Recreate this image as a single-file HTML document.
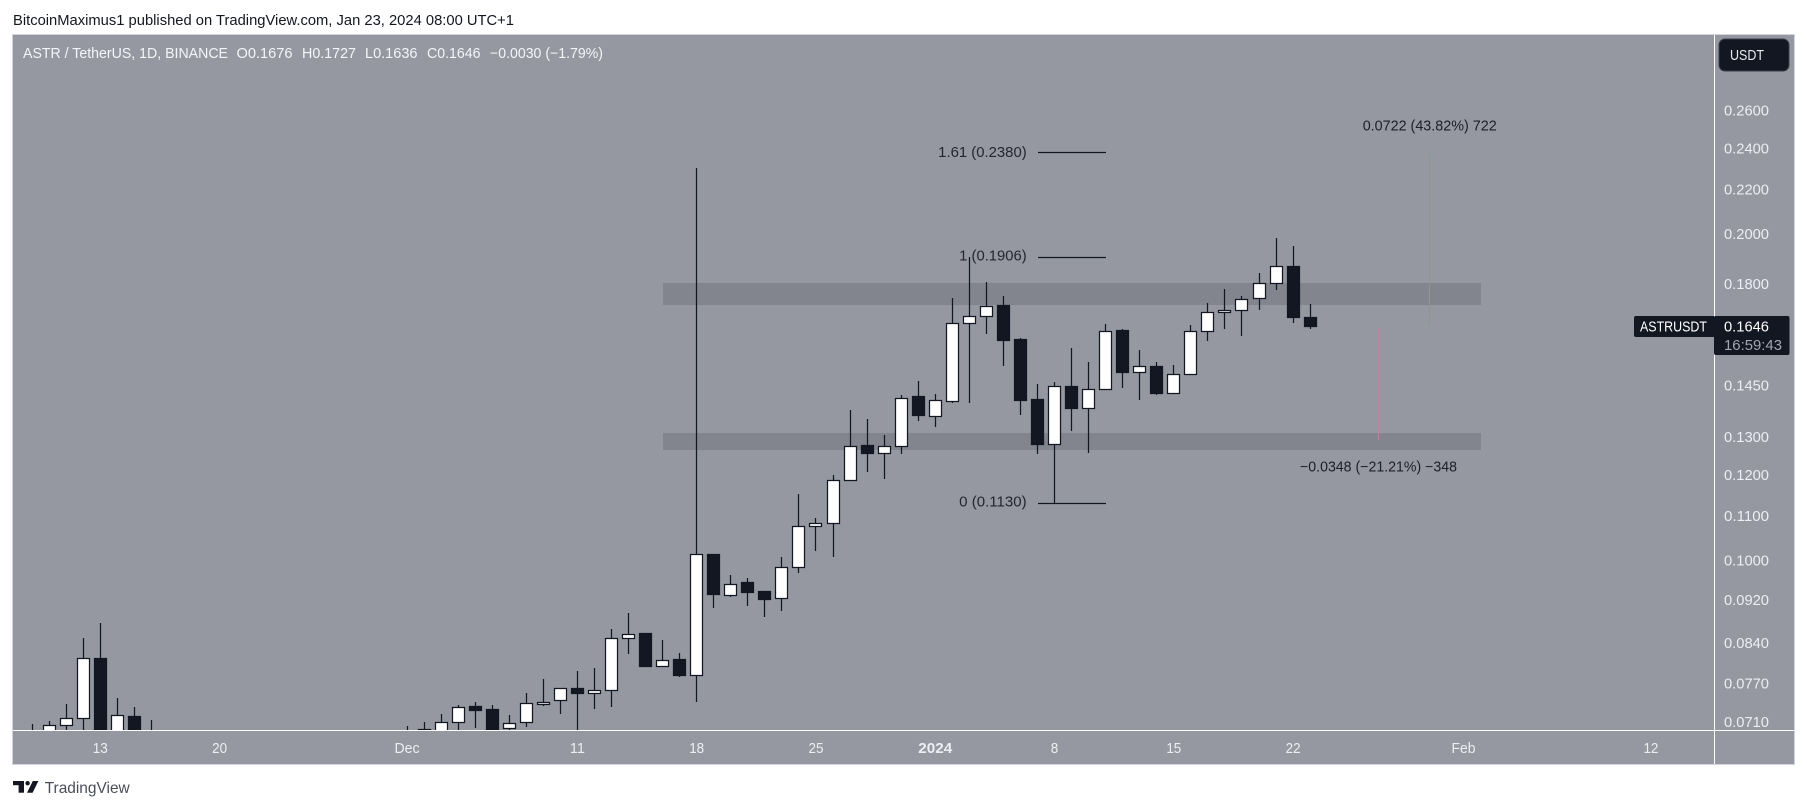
<!DOCTYPE html>
<html lang="en">
<head>
<meta charset="utf-8">
<title>ASTR / TetherUS chart</title>
<style>
html,body{margin:0;padding:0;background:#fff;width:1807px;height:809px;overflow:hidden}
svg{display:block}
text{font-family:"Liberation Sans",sans-serif;font-size:14.5px}
</style>
</head>
<body>
<svg id="chart" xmlns="http://www.w3.org/2000/svg" width="1807" height="809" viewBox="0 0 1807 809">
  <defs>
    <clipPath id="plot-clip"><rect x="13" y="35" width="1701" height="695"/></clipPath>
  </defs>
  <text x="13" y="25" fill="#131722" textLength="501" lengthAdjust="spacingAndGlyphs">BitcoinMaximus1 published on TradingView.com, Jan 23, 2024 08:00 UTC+1</text>
  <rect x="12.5" y="34.5" width="1782" height="730" fill="#9598a1" stroke="#d1d4dc" stroke-width="1"/>
  <g id="zones"></g>
  <g id="overlays"></g>
  <g id="candles" clip-path="url(#plot-clip)"></g>
  <line x1="1714.5" y1="35" x2="1714.5" y2="764" stroke="#fff" stroke-width="1"/>
  <line x1="13" y1="730.5" x2="1794" y2="730.5" stroke="#fff" stroke-width="1"/>
  <g id="price-ticks"></g>
  <g id="time-ticks"></g>

  <g fill="#f4f5f8">
    <text x="23" y="58" textLength="205" lengthAdjust="spacingAndGlyphs">ASTR / TetherUS, 1D, BINANCE</text>
    <text x="236.5" y="58" textLength="56" lengthAdjust="spacingAndGlyphs">O0.1676</text>
    <text x="302" y="58" textLength="54" lengthAdjust="spacingAndGlyphs">H0.1727</text>
    <text x="365" y="58" textLength="52.5" lengthAdjust="spacingAndGlyphs">L0.1636</text>
    <text x="427" y="58" textLength="53.5" lengthAdjust="spacingAndGlyphs">C0.1646</text>
    <text x="490" y="58" textLength="113" lengthAdjust="spacingAndGlyphs">−0.0030 (−1.79%)</text>
  </g>

  <g>
    <rect x="1719" y="39" width="70" height="32" rx="6" fill="#131722" stroke="#3b3f4b" stroke-width="1"/>
    <text x="1730" y="60" fill="#e8eaef" textLength="34" lengthAdjust="spacingAndGlyphs">USDT</text>
  </g>

  <g id="price-tag"></g>

  <g>
    <rect x="13" y="781" width="11" height="4.2" fill="#131722"/>
    <rect x="18.6" y="781" width="5.4" height="11.7" fill="#131722"/>
    <circle cx="27.6" cy="783.2" r="2.2" fill="#131722"/>
    <polygon points="32.8,781 38.4,781 32.6,792.7 27,792.7" fill="#131722"/>
    <text x="44.7" y="793" fill="#4a4e59" style="font-size:16px" textLength="85" lengthAdjust="spacingAndGlyphs">TradingView</text>
  </g>
</svg>

<script>
// Day offsets from 13 Nov 2023
const days = [-4,-3,-2,-1,0,1,2,3,
  18,19,20,21,22,23,24,25,26,27,28,29,30,31,32,33,34,35,36,37,38,39,40,41,42,43,44,45,46,47,48,49,50,51,52,53,54,55,56,57,58,59,60,61,62,63,64,65,66,67,68,69,70,71];
const opens = [.0692,.0692,.0705,.0716,.08123,.0685,.07195,.0685,
  .0685,.0700,.0697,.0710,.07336,.07304,.07005,.0710,.07377,.07435,.07637,.07552,.07594,.08488,.08566,.07997,.08106,.07845,.1015,.09292,.09545,.09365,.09233,.0987,.1077,.1082,.1187,.1279,.1256,.1275,.1417,.1360,.1403,.1656,.1681,.1722,.1599,.1408,.1280,.1450,.1382,.1440,.1630,.1492,.1513,.1428,.1485,.1629,.1696,.1703,.1747,.1803,.1870,.1676];
const highs = [.07075,.0712,.07382,.08493,.08768,.07478,.07336,.07136,
  .07045,.07105,.0723,.0737,.07414,.07367,.07212,.07557,.07785,.07637,.07918,.07969,.08657,.08957,.08566,.08457,.08227,.2302,.1015,.0971,.09642,.09385,.1008,.1153,.1096,.1200,.1378,.1352,.1307,.1423,.1466,.1426,.1748,.1908,.1808,.1755,.1605,.1456,.1462,.1572,.1526,.1654,.1637,.1565,.1526,.1516,.1651,.1730,.1782,.1755,.1843,.1986,.1952,.1727];
const lows = [.0685,.0688,.0692,.0692,.0671,.0678,.0678,.0678,
  .0678,.069,.0692,.0692,.07015,.06987,.06987,.07035,.0735,.07232,.0692,.07309,.07341,.08215,.0799,.07997,.07823,.07419,.09059,.09272,.0909,.08885,.0900,.0974,.1022,.1009,.1187,.1209,.1191,.1256,.1347,.1330,.1400,.1400,.1621,.1513,.1364,.1256,.1130,.1319,.1259,.1440,.1445,.1409,.1424,.1428,.1485,.1596,.1638,.1614,.1705,.1779,.1659,.1636];
const closes = [.0695,.07052,.0716,.08135,.0678,.0721,.0685,.0688,
  .0688,.0695,.0710,.0733,.07278,.0700,.07085,.07393,.07409,.07632,.07545,.0760,.08488,.08561,.0799,.08101,.07839,.1014,.09312,.0952,.0935,.09213,.09868,.1077,.1083,.1187,.1276,.1256,.1276,.1413,.1362,.1407,.1657,.1681,.1718,.1596,.1406,.1280,.1449,.1382,.1440,.1629,.1492,.1512,.1427,.1487,.1629,.1696,.1703,.1743,.1803,.1870,.1676,.1646];

const priceTicks = [0.26,0.24,0.22,0.20,0.18,0.145,0.13,0.12,0.11,0.10,0.092,0.084,0.077,0.071];
const timeTickDays = [0,7,18,28,35,42,49,56,63,70,80,91];
const timeTickLabels = ['13','20','Dec','11','18','25','2024','8','15','22','Feb','12'];

const zoneHighs = [0.1805,0.1312];
const zoneLows = [0.1722,0.1266];
const zoneStartDay = 33;
const zoneEndDay = 81;

const fibLevels = ['1.61','1','0'];
const fibPrices = [0.2380,0.1906,0.1130];
const fibStartDay = 55;
const fibEndDay = 59;

const measureDays = [78,75];
const measureFrom = [0.1651,0.1640];
const measureTo = [0.2375,0.1293];
const measureLabels = ['0.0722 (43.82%) 722','−0.0348 (−21.21%) −348'];

const lastSymbol = 'ASTRUSDT';
const countdown = '16:59:43';

const SVGNS = 'http://www.w3.org/2000/svg';
const INK = '#131722';

function xScale(d){ return 100.3 + 17.04 * d; }
function yScale(p){ return 111 + 471 * Math.log(0.26 / p); }
function snap(v){ return Math.round(v - 0.5) + 0.5; }
function fmtPrice(p){ return p.toFixed(4); }
function timeLabelWidth(s){
  if (s === '2024') return 34;
  if (s === 'Dec') return 25;
  if (s === 'Feb') return 24;
  return s.length * 7.5;
}

function make(parent, tag, attrs, text){
  const el = document.createElementNS(SVGNS, tag);
  for (const k in attrs) el.setAttribute(k, attrs[k]);
  if (text !== undefined) el.textContent = text;
  parent.appendChild(el);
  return el;
}

// Support / resistance zones
const zonesG = document.getElementById('zones');
zoneHighs.forEach(function(hi, i){
  const top = Math.round(yScale(hi));
  const bottom = Math.round(yScale(zoneLows[i]));
  const left = Math.round(xScale(zoneStartDay));
  const right = Math.round(xScale(zoneEndDay));
  const el = make(zonesG, 'rect', {x:left, y:top, width:right-left, height:bottom-top, fill:'#82858d'});
  
  
});

// Fibonacci levels and measure lines
const overlays = document.getElementById('overlays');
fibPrices.forEach(function(p, i){
  const y = snap(yScale(p));
  const line = make(overlays, 'line', {x1:Math.round(xScale(fibStartDay)), x2:Math.round(xScale(fibEndDay)), y1:y, y2:y, stroke:INK, 'stroke-width':1.2});
  
  
  const label = make(overlays, 'text', {x:1026.7, y:yScale(p)+(i===0?4.5:i===1?3.5:3), 'text-anchor':'end', fill:'#23262f'}, fibLevels[i] + ' (' + fmtPrice(p) + ')');
  
  
  label.setAttribute('textLength', i===0 ? 88.5 : 67.5);
  label.setAttribute('lengthAdjust', 'spacingAndGlyphs');
});
const measureColors = ['#84998f','#b38a94'];
const measureLabelX = [1362.7,1300];
const measureLabelY = [130.5,471.5];
const measureLabelW = [134,157];
measureDays.forEach(function(d, i){
  const x = snap(xScale(d));
  const line = make(overlays, 'line', {x1:x, x2:x, y1:yScale(measureFrom[i]), y2:yScale(measureTo[i]), stroke:measureColors[i], 'stroke-width':1});
  
  
  const label = make(overlays, 'text', {x:measureLabelX[i], y:measureLabelY[i], fill:'#1c1f28', textLength:measureLabelW[i], lengthAdjust:'spacingAndGlyphs'}, measureLabels[i]);
  
  
});

// Candles
const candlesG = document.getElementById('candles');
days.forEach(function(d, i){
  const cx = snap(xScale(d));
  const up = closes[i] >= opens[i];
  const g = make(candlesG, 'g', {});
  
  
  make(g, 'line', {x1:cx, x2:cx, y1:Math.round(yScale(highs[i])), y2:Math.round(yScale(lows[i])), stroke:INK, 'stroke-width':1.25});
  const top = snap(yScale(Math.max(opens[i], closes[i])));
  const bottom = snap(yScale(Math.min(opens[i], closes[i])));
  make(g, 'rect', {x:cx-6, y:top, width:12, height:Math.max(bottom-top, 1), fill:up ? '#ffffff' : INK, stroke:INK, 'stroke-width':1.25});
});

// Price axis labels
const priceG = document.getElementById('price-ticks');
priceTicks.forEach(function(p){
  const t = make(priceG, 'text', {x:1724, y:yScale(p)+4.6, fill:'#eceef2', textLength:45, lengthAdjust:'spacingAndGlyphs'}, fmtPrice(p));
  
  
});

// Time axis labels
const timeG = document.getElementById('time-ticks');
timeTickDays.forEach(function(d, i){
  const label = timeTickLabels[i];
  const bold = label === '2024';
  const t = make(timeG, 'text', {x:xScale(d), y:753, 'text-anchor':'middle', fill:'#eceef2', 'font-weight':bold ? 'bold' : 'normal', textLength:timeLabelWidth(label), lengthAdjust:'spacingAndGlyphs'}, label);
  
  
});

// Last price tag
const tagG = document.getElementById('price-tag');
const lastClose = closes[closes.length - 1];
const tagTop = Math.round(yScale(lastClose) - 10);
const symBox = make(tagG, 'rect', {x:1634, y:tagTop, width:81, height:21, rx:2, fill:INK});


const symText = make(tagG, 'text', {x:1640, y:tagTop+15.5, fill:'#ffffff', textLength:67, lengthAdjust:'spacingAndGlyphs'}, lastSymbol);


const priceBox = make(tagG, 'rect', {x:1714, y:tagTop, width:75.5, height:39, rx:2, fill:INK});


const priceText = make(tagG, 'text', {x:1724, y:tagTop+15.5, fill:'#ffffff', textLength:45, lengthAdjust:'spacingAndGlyphs'}, fmtPrice(lastClose));


const cdText = make(tagG, 'text', {x:1724, y:tagTop+34, fill:'#a3a6af', textLength:58, lengthAdjust:'spacingAndGlyphs'}, countdown);


</script>
</body>
</html>
